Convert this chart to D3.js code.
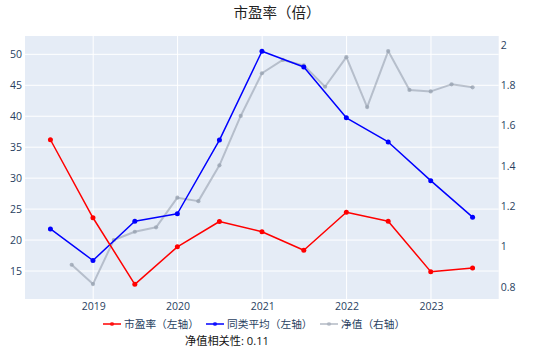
<!DOCTYPE html>
<html>
<head>
<meta charset="utf-8">
<script src="https://cdn.jsdelivr.net/npm/d3@7"></script>
<style>
  html, body { margin: 0; padding: 0; background: #fff; }
  svg { display: block; font-family: "Open Sans", "Noto Sans CJK SC", sans-serif; }
</style>
</head>
<body>
<svg id="chart" width="555" height="364"></svg>
<script>
// ---- data ----
const halfYearDates = ["2018-06-30","2018-12-31","2019-06-30","2019-12-31","2020-06-30","2020-12-31","2021-06-30","2021-12-31","2022-06-30","2022-12-31","2023-06-30"];
const peValues = [36.2, 23.6, 12.85, 18.9, 23.0, 21.35, 18.35, 24.5, 23.05, 14.9, 15.5];
const peerAvgValues = [21.8, 16.7, 23.05, 24.25, 36.15, 50.5, 47.95, 39.75, 35.85, 29.6, 23.7];
const navDates = ["2018-09-30","2018-12-31","2019-03-31","2019-06-30","2019-09-30","2019-12-31","2020-03-31","2020-06-30","2020-09-30","2020-12-31","2021-03-31","2021-06-30","2021-09-30","2021-12-31","2022-03-31","2022-06-30","2022-09-30","2022-12-31","2023-03-31","2023-06-30"];
const navValues = [0.909, 0.813, 1.032, 1.073, 1.095, 1.242, 1.225, 1.403, 1.648, 1.860, 1.926, 1.899, 1.793, 1.940, 1.692, 1.970, 1.777, 1.770, 1.805, 1.790];
const leftTicks = [15, 20, 25, 30, 35, 40, 45, 50];
const rightTicks = [0.8, 1, 1.2, 1.4, 1.6, 1.8, 2];
const xTickYears = ["2019", "2020", "2021", "2022", "2023"];
const seriesNames = ["市盈率（左轴）", "同类平均（左轴）", "净值（右轴）"];
const titleText = "市盈率（倍）";
const noteText = "净值相关性: 0.11";

// ---- layout ----
const L = 25, R = 498.7, T = 36, B = 299;
const parse = d3.timeParse("%Y-%m-%d");
const svg = d3.select("#chart");

const x = d3.scaleTime().domain([parse("2018-03-12"), parse("2023-10-21")]).range([L, R]);
const yL = d3.scaleLinear().domain([10.48, 52.96]).range([B, T]);
const yR = d3.scaleLinear().domain([0.739, 2.045]).range([B, T]);

svg.append("rect").attr("x", L).attr("y", T).attr("width", R - L).attr("height", B - T).attr("fill", "#E5ECF6");

// grid
const g = svg.append("g");
g.selectAll(".hg").data(leftTicks).join("line")
  .attr("x1", L).attr("x2", R).attr("y1", d => yL(d)).attr("y2", d => yL(d))
  .attr("stroke", "#fff").attr("stroke-width", 1);
g.selectAll(".vg").data(xTickYears).join("line")
  .attr("y1", T).attr("y2", B).attr("x1", d => x(parse(d + "-01-01"))).attr("x2", d => x(parse(d + "-01-01")))
  .attr("stroke", "#fff").attr("stroke-width", 1);

// axes labels
const tickColor = "#2a3f5f";
const leftAxis = d3.axisLeft(yL).tickValues(leftTicks).tickSize(0).tickPadding(3);
svg.append("g").attr("transform", `translate(${L},0)`).call(leftAxis)
  .call(a => a.select(".domain").remove())
  .call(a => a.selectAll("text").attr("fill", tickColor).style("font-size", "10.5px").style("font-family", "'Open Sans', sans-serif"));
const rightAxis = d3.axisRight(yR).tickValues(rightTicks).tickSize(0).tickPadding(2).tickFormat(d3.format("~g"));
svg.append("g").attr("transform", `translate(${R},0)`).call(rightAxis)
  .call(a => a.select(".domain").remove())
  .call(a => a.selectAll("text").attr("fill", tickColor).style("font-size", "10.5px").style("font-family", "'Open Sans', sans-serif"));
const bottomAxis = d3.axisBottom(x).tickValues(xTickYears.map(d => parse(d + "-01-01"))).tickSize(0).tickPadding(4).tickFormat(d3.timeFormat("%Y"));
svg.append("g").attr("transform", `translate(0,${B})`).call(bottomAxis)
  .call(a => a.select(".domain").remove())
  .call(a => a.selectAll("text").attr("fill", tickColor).style("font-size", "10.5px").style("font-family", "'Open Sans', sans-serif"));

// series
svg.append("clipPath").attr("id", "clip").append("rect").attr("x", L).attr("y", T).attr("width", R - L).attr("height", B - T);
const plot = svg.append("g").attr("clip-path", "url(#clip)");

const series = [
  { name: seriesNames[2], dates: navDates, values: navValues, y: yR, color: "rgba(150,160,175,0.6)", mcolor: "rgba(150,160,175,0.75)", width: 2, r: 2.1 },
  { name: seriesNames[1], dates: halfYearDates, values: peerAvgValues, y: yL, color: "blue", mcolor: "blue", width: 1.5, r: 2.5 },
  { name: seriesNames[0], dates: halfYearDates, values: peValues, y: yL, color: "red", mcolor: "red", width: 1.5, r: 2.5 }
];
series.forEach(s => {
  const pts = s.dates.map((d, i) => [parse(d), s.values[i]]);
  const line = d3.line().x(d => x(d[0])).y(d => s.y(d[1]));
  plot.append("path").datum(pts).attr("d", line).attr("fill", "none")
    .attr("stroke", s.color).attr("stroke-width", s.width).attr("stroke-linejoin", "round");
  plot.selectAll(null).data(pts).join("circle")
    .attr("cx", d => x(d[0])).attr("cy", d => s.y(d[1])).attr("r", s.r).attr("fill", s.mcolor);
});

// title
svg.append("text").attr("x", 277).attr("y", 18).attr("text-anchor", "middle")
  .attr("fill", "#222").style("font-size", "14.5px").text(titleText);

// legend
const legendItems = [
  { name: seriesNames[0], color: "rgba(255,0,0,0.75)", x: 103 },
  { name: seriesNames[1], color: "rgba(0,0,255,0.75)", x: 206 },
  { name: seriesNames[2], color: "rgba(160,168,182,0.6)", x: 320 }
];
const lg = svg.append("g");
legendItems.forEach(it => {
  lg.append("line").attr("x1", it.x).attr("x2", it.x + 18).attr("y1", 324).attr("y2", 324)
    .attr("stroke", it.color).attr("stroke-width", 2);
  lg.append("circle").attr("cx", it.x + 9).attr("cy", 324).attr("r", 2.1).attr("fill", it.color);
  lg.append("text").attr("x", it.x + 21).attr("y", 324).attr("dy", "0.35em")
    .attr("fill", tickColor).style("font-size", "10.7px").text(it.name);
});

svg.append("text").attr("x", 227).attr("y", 341).attr("dy", "0.35em").attr("text-anchor", "middle")
  .attr("fill", "#111").style("font-size", "11.2px").text(noteText);
</script>
</body>
</html>
